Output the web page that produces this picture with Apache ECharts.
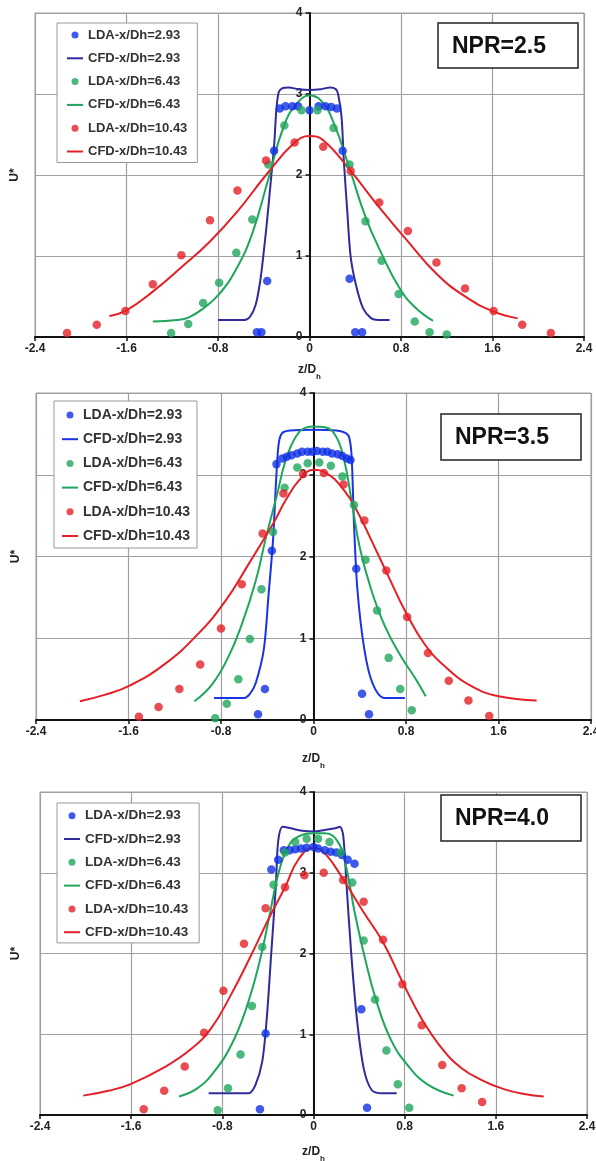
<!DOCTYPE html>
<html><head><meta charset="utf-8">
<script src="https://cdn.jsdelivr.net/npm/echarts@6/dist/echarts.min.js"></script>
<style>html,body{margin:0;padding:0;background:#fff}#c{width:596px;height:1161px}</style>
</head><body><div id="c"></div>
<script>
// ---------- data ----------
const seriesNames = ['LDA-x/Dh=2.93','CFD-x/Dh=2.93','LDA-x/Dh=6.43','CFD-x/Dh=6.43','LDA-x/Dh=10.43','CFD-x/Dh=10.43'];
const nprLabels = ['NPR=2.5','NPR=3.5','NPR=4.0'];
const xTickLabels = ['-2.4','-1.6','-0.8','0','0.8','1.6','2.4'];
const yTickLabels = ['0','1','2','3','4'];

// NPR = 2.5
const p1_lda_293 = [[-0.46,0.06],[-0.42,0.06],[-0.37,0.69],[-0.31,2.30],[-0.26,2.82],[-0.21,2.85],[-0.15,2.85],[-0.10,2.85],[0,2.80],[0.08,2.85],[0.14,2.85],[0.19,2.84],[0.24,2.82],[0.29,2.30],[0.35,0.72],[0.40,0.06],[0.46,0.06]];
const p1_cfd_293 = [[-0.80,0.21],[-0.57,0.21],[-0.52,0.25],[-0.47,0.40],[-0.43,0.70],[-0.40,1.05],[-0.37,1.45],[-0.34,1.90],[-0.31,2.35],[-0.29,2.80],[-0.27,3.02],[-0.24,3.07],[-0.18,3.08],[-0.10,3.06],[0,3.05],[0.10,3.06],[0.18,3.08],[0.23,3.06],[0.25,3.00],[0.28,2.72],[0.30,2.18],[0.33,1.56],[0.36,0.99],[0.41,0.62],[0.47,0.35],[0.54,0.23],[0.60,0.21],[0.70,0.21]];
const p1_lda_643 = [[-1.21,0.05],[-1.06,0.16],[-0.93,0.42],[-0.79,0.67],[-0.64,1.04],[-0.50,1.45],[-0.36,2.13],[-0.22,2.61],[-0.07,2.80],[0.07,2.80],[0.21,2.58],[0.35,2.13],[0.49,1.43],[0.63,0.94],[0.78,0.53],[0.92,0.19],[1.05,0.06],[1.20,0.03]];
const p1_cfd_643 = [[-1.37,0.19],[-1.16,0.21],[-1.06,0.24],[-0.93,0.35],[-0.79,0.53],[-0.64,0.84],[-0.50,1.28],[-0.36,1.95],[-0.22,2.62],[-0.10,2.90],[0,2.98],[0.10,2.92],[0.21,2.65],[0.35,2.08],[0.49,1.48],[0.63,1.03],[0.78,0.62],[0.92,0.37],[1.08,0.20]];
const p1_lda_1043 = [[-2.12,0.05],[-1.86,0.15],[-1.61,0.32],[-1.37,0.65],[-1.12,1.01],[-0.87,1.44],[-0.63,1.81],[-0.38,2.18],[-0.13,2.40],[0.12,2.35],[0.36,2.05],[0.61,1.66],[0.86,1.31],[1.11,0.92],[1.36,0.60],[1.61,0.32],[1.86,0.15],[2.11,0.05]];
const p1_cfd_1043 = [[-1.75,0.26],[-1.60,0.33],[-1.37,0.56],[-1.12,0.86],[-0.87,1.18],[-0.63,1.55],[-0.38,2.00],[-0.13,2.40],[0,2.48],[0.12,2.43],[0.36,2.05],[0.61,1.60],[0.86,1.18],[1.11,0.78],[1.35,0.51],[1.60,0.32],[1.82,0.23]];

// NPR = 3.5
const p2_lda_293 = [[-0.48,0.07],[-0.42,0.38],[-0.36,2.07],[-0.32,3.13],[-0.27,3.20],[-0.23,3.22],[-0.19,3.24],[-0.14,3.26],[-0.10,3.28],[-0.05,3.28],[-0.01,3.28],[0.03,3.29],[0.08,3.28],[0.12,3.28],[0.16,3.26],[0.21,3.25],[0.25,3.23],[0.29,3.20],[0.32,3.18],[0.37,1.85],[0.42,0.32],[0.48,0.07]];
const p2_cfd_293 = [[-0.86,0.27],[-0.60,0.27],[-0.55,0.32],[-0.50,0.45],[-0.43,0.86],[-0.39,1.51],[-0.35,2.20],[-0.32,3.02],[-0.30,3.39],[-0.27,3.51],[-0.20,3.54],[0,3.55],[0.20,3.54],[0.28,3.51],[0.31,3.45],[0.33,3.22],[0.35,2.41],[0.38,1.59],[0.44,0.86],[0.51,0.45],[0.61,0.27],[0.79,0.27]];
const p2_lda_643 = [[-0.85,0.02],[-0.75,0.20],[-0.65,0.50],[-0.55,0.99],[-0.45,1.60],[-0.35,2.30],[-0.25,2.84],[-0.14,3.09],[-0.05,3.14],[0.05,3.15],[0.15,3.11],[0.25,2.98],[0.35,2.63],[0.45,1.96],[0.55,1.34],[0.65,0.76],[0.75,0.38],[0.85,0.12]];
const p2_cfd_643 = [[-1.03,0.23],[-0.88,0.43],[-0.74,0.76],[-0.62,1.17],[-0.50,1.70],[-0.41,2.24],[-0.32,2.73],[-0.24,3.18],[-0.15,3.47],[-0.06,3.58],[0,3.59],[0.10,3.58],[0.19,3.48],[0.26,3.21],[0.33,2.68],[0.40,2.11],[0.50,1.59],[0.62,1.14],[0.76,0.77],[0.88,0.51],[0.97,0.29]];
const p2_lda_1043 = [[-1.51,0.04],[-1.34,0.16],[-1.16,0.38],[-0.98,0.68],[-0.80,1.12],[-0.62,1.66],[-0.44,2.28],[-0.26,2.77],[-0.09,3.01],[0.09,3.02],[0.26,2.88],[0.44,2.44],[0.63,1.83],[0.81,1.26],[0.99,0.82],[1.17,0.48],[1.34,0.24],[1.52,0.05]];
const p2_cfd_1043 = [[-2.02,0.23],[-1.80,0.31],[-1.59,0.42],[-1.29,0.68],[-1.00,1.05],[-0.76,1.46],[-0.56,1.91],[-0.35,2.40],[-0.24,2.69],[-0.12,2.94],[0,3.06],[0.10,3.03],[0.27,2.80],[0.39,2.52],[0.50,2.20],[0.65,1.75],[0.79,1.34],[0.96,0.93],[1.14,0.65],[1.37,0.41],[1.60,0.29],[1.93,0.24]];

// NPR = 4.0
const p3_lda_293 = [[-0.47,0.07],[-0.42,1.01],[-0.37,3.04],[-0.31,3.16],[-0.26,3.28],[-0.21,3.28],[-0.16,3.29],[-0.11,3.30],[-0.06,3.31],[0,3.32],[0.04,3.30],[0.10,3.28],[0.15,3.26],[0.20,3.25],[0.25,3.22],[0.30,3.16],[0.36,3.11],[0.42,1.31],[0.47,0.09]];
const p3_cfd_293 = [[-0.92,0.27],[-0.57,0.27],[-0.51,0.37],[-0.45,0.66],[-0.41,1.20],[-0.37,2.02],[-0.33,2.85],[-0.31,3.39],[-0.27,3.57],[-0.20,3.55],[-0.10,3.52],[0,3.51],[0.10,3.53],[0.19,3.55],[0.23,3.57],[0.26,3.47],[0.29,2.85],[0.33,2.02],[0.38,1.20],[0.44,0.58],[0.51,0.31],[0.60,0.27],[0.73,0.27]];
const p3_lda_643 = [[-0.84,0.06],[-0.75,0.33],[-0.64,0.75],[-0.54,1.35],[-0.45,2.08],[-0.35,2.85],[-0.25,3.25],[-0.16,3.38],[-0.06,3.42],[0.04,3.42],[0.14,3.38],[0.24,3.25],[0.34,2.88],[0.44,2.16],[0.54,1.43],[0.64,0.80],[0.74,0.38],[0.84,0.09]];
const p3_cfd_643 = [[-1.18,0.23],[-1.02,0.33],[-0.87,0.54],[-0.72,0.87],[-0.60,1.28],[-0.48,1.86],[-0.39,2.44],[-0.31,2.98],[-0.22,3.33],[-0.13,3.45],[0,3.49],[0.10,3.49],[0.22,3.37],[0.29,3.05],[0.36,2.52],[0.45,1.95],[0.55,1.42],[0.68,0.93],[0.83,0.61],[1.00,0.38],[1.23,0.24]];
const p3_lda_1043 = [[-1.49,0.07],[-1.31,0.30],[-1.13,0.60],[-0.96,1.02],[-0.79,1.54],[-0.61,2.12],[-0.42,2.56],[-0.25,2.82],[-0.08,2.97],[0.09,3.00],[0.26,2.91],[0.44,2.64],[0.61,2.17],[0.78,1.62],[0.95,1.11],[1.13,0.62],[1.30,0.33],[1.48,0.16]];
const p3_cfd_1043 = [[-2.02,0.24],[-1.80,0.30],[-1.61,0.38],[-1.31,0.59],[-1.08,0.81],[-0.90,1.07],[-0.72,1.50],[-0.54,2.00],[-0.39,2.44],[-0.25,2.82],[-0.13,3.17],[0,3.31],[0.10,3.24],[0.26,2.92],[0.44,2.51],[0.61,2.14],[0.78,1.65],[0.95,1.19],[1.13,0.82],[1.30,0.58],[1.48,0.43],[1.67,0.32],[1.85,0.26],[2.02,0.23]];

const panelData = [
  [p1_lda_293, p1_cfd_293, p1_lda_643, p1_cfd_643, p1_lda_1043, p1_cfd_1043],
  [p2_lda_293, p2_cfd_293, p2_lda_643, p2_cfd_643, p2_lda_1043, p2_cfd_1043],
  [p3_lda_293, p3_cfd_293, p3_lda_643, p3_cfd_643, p3_lda_1043, p3_cfd_1043]
];

// ---------- layout / style ----------
const layouts = [
  { grid:{left:35, top:13, width:549, height:324}, legend:{left:57, top:23, padding:[4,10,3,10], itemGap:7.3, font:13},
    npr:{x:438, y:23, w:140, h:45}, xNameGap:27, yNameGap:289, cfdBlue:'#2f2b9c' },
  { grid:{left:36, top:393, width:555, height:327}, legend:{left:54, top:401, padding:[6,7,4,8], itemGap:8.2, font:14},
    npr:{x:441, y:414, w:140, h:46}, xNameGap:33, yNameGap:292, cfdBlue:'#1a33e6' },
  { grid:{left:40, top:792, width:547, height:323}, legend:{left:57, top:803, padding:[4.7,11,2.7,7], itemGap:7.3, font:13.5},
    npr:{x:441, y:795, w:140, h:46}, xNameGap:31, yNameGap:292, cfdBlue:'#2f2b9c' }
];
const ldaBlue = '#0f2fe6', green = '#1fa65c', red = '#e42027';
const FONT = 'Arial, "Liberation Sans", sans-serif';

const grids = [], xAxes = [], yAxes = [], series = [], legends = [], graphics = [];
layouts.forEach((L, i) => {
  grids.push(Object.assign({show:true, borderColor:'#a0a0a0', borderWidth:1, backgroundColor:'#fff',
                            containLabel:false, outerBoundsMode:'none'}, L.grid));
  xAxes.push({
    type:'value', gridIndex:i, min:-2.4, max:2.4, interval:0.8,
    name:'{a|z/D}{b|h}', nameLocation:'middle', nameGap:L.xNameGap,
    nameTextStyle:{ rich:{ a:{fontFamily:FONT, fontWeight:'bold', fontSize:12, color:'#222', lineHeight:14, verticalAlign:'top'},
                           b:{fontFamily:FONT, fontWeight:'bold', fontSize:8, color:'#222', lineHeight:8, padding:[9,0,0,0], verticalAlign:'top'} } },
    axisLine:{ lineStyle:{color:'#111', width:2} },
    axisTick:{ show:true, length:4, lineStyle:{color:'#111', width:1.5} },
    axisLabel:{ fontFamily:FONT, fontWeight:'bold', fontSize:12, color:'#222', margin:6,
                formatter:v => xTickLabels[Math.round((v + 2.4) / 0.8)] },
    splitLine:{ show:true, lineStyle:{color:'#a0a0a0', width:1.2} }
  });
  yAxes.push({
    type:'value', gridIndex:i, min:0, max:4, interval:1, position:'left', offset:0,
    name:'U*', nameLocation:'middle', nameGap:L.yNameGap, nameRotate:90,
    nameTextStyle:{fontFamily:FONT, fontWeight:'bold', fontSize:12, color:'#222'},
    axisLine:{ show:true, onZero:false, lineStyle:{color:'#111', width:2} },
    axisTick:{ show:true, length:4, lineStyle:{color:'#111', width:1.5} },
    axisLabel:{ fontFamily:FONT, fontWeight:'bold', fontSize:12, color:'#222', margin:7,
                formatter:v => yTickLabels[Math.round(v)] },
    splitLine:{ show:true, lineStyle:{color:'#a0a0a0', width:1.2} }
  });
  const colors = [ldaBlue, L.cfdBlue, green, green, red, red];
  panelData[i].forEach((d, k) => {
    const isLine = k % 2 === 1;
    if (isLine) {
      series.push({ type:'line', name:seriesNames[k], xAxisIndex:i, yAxisIndex:i, data:d,
        showSymbol:false, symbol:'none', smooth:(k === 1 ? 0.3 : 0.45),
        lineStyle:{color:colors[k], width:2}, itemStyle:{color:colors[k]}, z:2 });
    } else {
      series.push({ type:'scatter', name:seriesNames[k], xAxisIndex:i, yAxisIndex:i, data:d,
        symbol:'circle', symbolSize:8.5, itemStyle:{color:colors[k]}, z:3 });
    }
  });
  legends.push({
    orient:'vertical', left:L.legend.left, top:L.legend.top, padding:L.legend.padding,
    itemGap:L.legend.itemGap, itemWidth:16, itemHeight:7, selectedMode:false,
    backgroundColor:'#fff', borderColor:'#999', borderWidth:1, borderRadius:0,
    textStyle:{ fontFamily:FONT, fontWeight:'bold', fontSize:L.legend.font, color:'#333', lineHeight:16 },
    data: seriesNames.map((n, k) => ({
      name:n,
      icon: k % 2 === 0 ? 'circle' : 'path://M0,0H16V2H0Z',
      itemStyle:{ color: colors[k], borderWidth:0 }
    }))
  });
  graphics.push({ type:'rect', shape:{x:L.npr.x, y:L.npr.y, width:L.npr.w, height:L.npr.h},
    style:{fill:'#fff', stroke:'#222', lineWidth:1.5}, z:100 });
  graphics.push({ type:'text', z:101,
    style:{ x:L.npr.x + 14, y:L.npr.y + L.npr.h/2 + 1, text:nprLabels[i], font:'bold 23px ' + FONT,
            fill:'#111', align:'left', verticalAlign:'middle' } });
});

const chart = echarts.init(document.getElementById('c'), null, {renderer:'canvas'});
chart.setOption({
  animation:false,
  backgroundColor:'#fff',
  grid:grids, xAxis:xAxes, yAxis:yAxes, series:series, legend:legends, graphic:graphics
});
// Put each y axis (line, ticks, labels, name) on x = 0, located through the x scale.
chart.setOption({
  yAxis: layouts.map((L, i) => ({ offset: -(chart.convertToPixel({xAxisIndex:i}, 0) - L.grid.left) }))
});
</script></body></html>
